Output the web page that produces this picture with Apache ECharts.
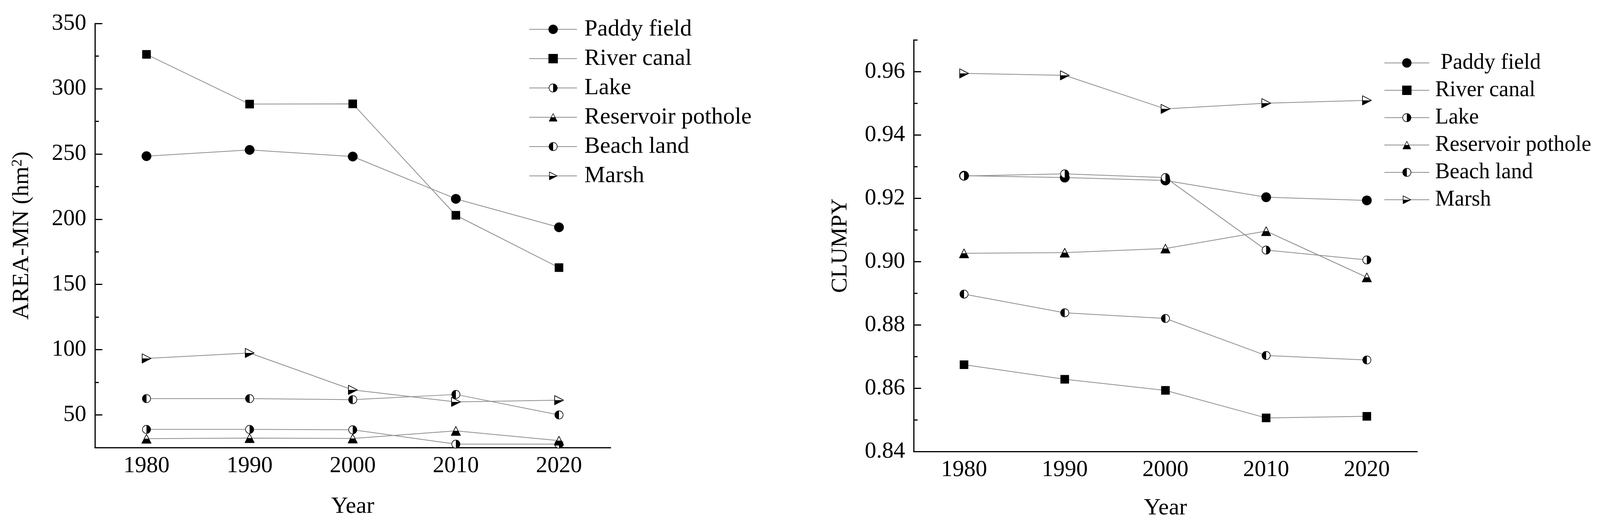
<!DOCTYPE html>
<html>
<head>
<meta charset="utf-8">
<script src="https://cdn.jsdelivr.net/npm/echarts@6/dist/echarts.min.js"></script>
<style>
html,body{margin:0;padding:0;background:#fff;}
#c{width:4100px;height:1338px;}
</style>
</head>
<body>
<div id="c"></div>
<script>
// ---------- data ----------
const years = ['1980', '1990', '2000', '2010', '2020'];
const namesLeft = ['Paddy field', 'River canal', 'Lake', 'Reservoir pothole', 'Beach land', 'Marsh'];
const namesRight = [' Paddy field', 'River canal', 'Lake', 'Reservoir pothole', 'Beach land', 'Marsh'];

// AREA-MN (hm2)
const areaPaddy     = [248.3, 253.1, 248.0, 215.6, 193.8];
const areaRiver     = [326.3, 288.2, 288.4, 203.0, 162.9];
const areaLake      = [38.9, 38.9, 38.6, 27.6, 27.6];
const areaReservoir = [31.8, 32.3, 32.0, 37.8, 30.3];
const areaBeach     = [62.5, 62.5, 61.7, 65.7, 50.0];
const areaMarsh     = [93.3, 97.5, 69.2, 60.0, 61.3];

// CLUMPY
const clumpyPaddy     = [0.9271, 0.9265, 0.9256, 0.9203, 0.9193];
const clumpyRiver     = [0.8674, 0.8628, 0.8593, 0.8506, 0.8511];
const clumpyLake      = [0.9270, 0.9277, 0.9265, 0.9036, 0.9005];
const clumpyReservoir = [0.9026, 0.9028, 0.9041, 0.9096, 0.8950];
const clumpyBeach     = [0.8897, 0.8838, 0.8820, 0.8703, 0.8689];
const clumpyMarsh     = [0.9594, 0.9588, 0.9482, 0.9500, 0.9509];

// tick labels
const areaTicks = [50, 100, 150, 200, 250, 300, 350];
const areaMinorTicks = [75, 125, 175, 225, 275, 325];
const clumpyTicks = [0.84, 0.86, 0.88, 0.90, 0.92, 0.94, 0.96];
const clumpyMinorTicks = [0.85, 0.87, 0.89, 0.91, 0.93, 0.95, 0.97];

// ---------- styling ----------
const FONT = '"Liberation Serif", "Times New Roman", "DejaVu Serif", serif';
function svgUri(body) {
  return 'image://data:image/svg+xml;charset=utf-8,' + encodeURIComponent(
    "<svg xmlns='http://www.w3.org/2000/svg' width='48' height='48' viewBox='0 0 48 48'>" + body + "</svg>");
}
const SYM = {
  paddy: 'circle',
  river: 'rect',
  lake: svgUri("<circle cx='24' cy='24' r='21' fill='#fff' stroke='#000' stroke-width='3'/><path d='M24 3 A21 21 0 0 1 24 45 Z' fill='#000'/>"),
  beach: svgUri("<circle cx='24' cy='24' r='21' fill='#fff' stroke='#000' stroke-width='3'/><path d='M24 3 A21 21 0 0 0 24 45 Z' fill='#000'/>"),
  reservoir: svgUri("<polygon points='24,5 44,44 4,44' fill='#fff' stroke='#000' stroke-width='3' stroke-linejoin='round'/><polygon points='14.3,24 33.7,24 44,44 4,44' fill='#000'/>"),
  marsh: svgUri("<polygon points='5,4 44,24 5,44' fill='#fff' stroke='#000' stroke-width='3' stroke-linejoin='round'/><polygon points='5,24 44,24 5,44' fill='#000'/>")
};
const SIZE = {paddy: 25, river: 22, lake: 24, beach: 24, reservoir: 28, marsh: 28};

function mk(name, data, key, xi, yi) {
  return {
    type: 'line', name: name, data: data,
    xAxisIndex: xi, yAxisIndex: yi,
    symbol: SYM[key], symbolSize: SIZE[key], showSymbol: true,
    lineStyle: {color: '#8e8e8e', width: 2},
    itemStyle: {color: '#000'},
    emphasis: {disabled: true},
    animation: false
  };
}

const axisLineStyle = {color: '#000', width: 3};

function xAx(gi, gap) {
  return {
    gridIndex: gi, type: 'category', data: years, boundaryGap: true,
    axisLine: {onZero: false, lineStyle: axisLineStyle},
    axisTick: {alignWithLabel: true, inside: true, length: 10, lineStyle: {color: '#000', width: 3}},
    axisLabel: {fontSize: 59, color: '#000', fontFamily: FONT, margin: 18},
    splitLine: {show: false},
    name: 'Year', nameLocation: 'middle', nameGap: gap,
    nameTextStyle: {fontSize: 60, color: '#000', fontFamily: FONT}
  };
}

const option = {
  animation: false,
  backgroundColor: '#fff',
  textStyle: {fontFamily: FONT},
  grid: [
    {left: 243, top: 60, width: 1320, height: 1085, containLabel: false},
    {left: 2339, top: 102, width: 1289, height: 1053, containLabel: false}
  ],
  legend: [
    {
      data: namesLeft, orient: 'vertical', left: 1349, top: 40,
      itemWidth: 122, itemHeight: 30, itemGap: 15,
      selectedMode: false,
      textStyle: {fontSize: 60, lineHeight: 60, color: '#000', fontFamily: FONT, padding: [0, 0, 0, 14]}
    },
    {
      data: namesRight, orient: 'vertical', left: 3538, top: 128,
      itemWidth: 115, itemHeight: 30, itemGap: 14,
      selectedMode: false,
      textStyle: {fontSize: 56, lineHeight: 56, color: '#000', fontFamily: FONT, padding: [0, 0, 0, 10]}
    }
  ],
  xAxis: [xAx(0, 121), xAx(1, 115)],
  yAxis: [
    {
      gridIndex: 0, type: 'value', min: 25, max: 350, position: 'left',
      axisLine: {show: true, lineStyle: axisLineStyle},
      axisTick: {show: true, customValues: areaTicks, inside: true, length: 19, lineStyle: {color: '#000', width: 3}},
      axisLabel: {customValues: areaTicks, fontSize: 59, color: '#000', fontFamily: FONT, margin: 22},
      splitLine: {show: false},
      name: 'AREA-MN (hm{s|2})', nameLocation: 'middle', nameGap: 157,
      nameTextStyle: {
        fontSize: 60, color: '#000', fontFamily: FONT,
        rich: {s: {fontSize: 38, fontFamily: FONT, color: '#000', verticalAlign: 'top', lineHeight: 60}}
      }
    },
    {
      gridIndex: 0, type: 'value', min: 25, max: 350, position: 'left',
      axisLine: {show: false},
      axisTick: {show: true, customValues: areaMinorTicks, inside: true, length: 10, lineStyle: {color: '#000', width: 3}},
      axisLabel: {show: false},
      splitLine: {show: false}
    },
    {
      gridIndex: 1, type: 'value', min: 0.84, max: 0.97, position: 'left',
      axisLine: {show: true, lineStyle: axisLineStyle},
      axisTick: {show: true, customValues: clumpyTicks, inside: true, length: 19, lineStyle: {color: '#000', width: 3}},
      axisLabel: {customValues: clumpyTicks, fontSize: 59, color: '#000', fontFamily: FONT, margin: 22,
        formatter: function (v) { return Number(v).toFixed(2); }},
      splitLine: {show: false},
      name: 'CLUMPY', nameLocation: 'middle', nameGap: 158,
      nameTextStyle: {fontSize: 58, color: '#000', fontFamily: FONT}
    },
    {
      gridIndex: 1, type: 'value', min: 0.84, max: 0.97, position: 'left',
      axisLine: {show: false},
      axisTick: {show: true, customValues: clumpyMinorTicks, inside: true, length: 10, lineStyle: {color: '#000', width: 3}},
      axisLabel: {show: false},
      splitLine: {show: false}
    }
  ],
  series: [
    mk(namesLeft[0], areaPaddy, 'paddy', 0, 0),
    mk(namesLeft[1], areaRiver, 'river', 0, 0),
    mk(namesLeft[2], areaLake, 'lake', 0, 0),
    mk(namesLeft[3], areaReservoir, 'reservoir', 0, 0),
    mk(namesLeft[4], areaBeach, 'beach', 0, 0),
    mk(namesLeft[5], areaMarsh, 'marsh', 0, 0),
    mk(namesRight[0], clumpyPaddy, 'paddy', 1, 2),
    mk(namesRight[1], clumpyRiver, 'river', 1, 2),
    mk(namesRight[2], clumpyLake, 'lake', 1, 2),
    mk(namesRight[3], clumpyReservoir, 'reservoir', 1, 2),
    mk(namesRight[4], clumpyBeach, 'beach', 1, 2),
    mk(namesRight[5], clumpyMarsh, 'marsh', 1, 2)
  ]
};

const chart = echarts.init(document.getElementById('c'), null, {renderer: 'canvas'});
chart.setOption(option);
</script>
</body>
</html>
